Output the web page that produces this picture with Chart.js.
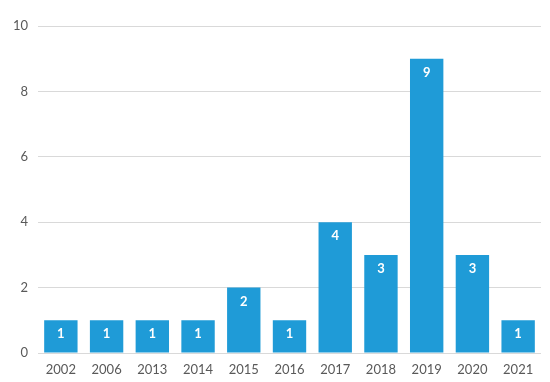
<!DOCTYPE html>
<html>
<head>
<meta charset="utf-8">
<script src="https://cdn.jsdelivr.net/npm/chart.js@4"></script>
<style>
  html, body { margin: 0; padding: 0; background: #fff; }
  #wrap { width: 550px; height: 382px; }
</style>
</head>
<body>
<div id="wrap"><canvas id="chart-area"></canvas></div>
<script>
var years = ['2002', '2006', '2013', '2014', '2015', '2016', '2017', '2018', '2019', '2020', '2021'];
var counts = [1, 1, 1, 1, 2, 1, 4, 3, 9, 3, 1];
var yTicks = [0, 2, 4, 6, 8, 10];

// white value labels just below the top of each bar
var barLabels = {
    id: 'barLabels',
    afterDatasetsDraw: function(chart) {
        var ctx = chart.ctx;
        var meta = chart.getDatasetMeta(0);
        ctx.save();
        ctx.fillStyle = '#ffffff';
        ctx.font = 'bold 13px Lato';
        ctx.textAlign = 'center';
        ctx.textBaseline = 'middle';
        meta.data.forEach(function(bar, i) {
            ctx.fillText(chart.data.datasets[0].data[i], bar.x, bar.y + 14);
        });
        ctx.restore();
    }
};

var config = {
    type: 'bar',
    data: {
        labels: years,
        datasets: [{
            data: counts,
            backgroundColor: '#1f9bd7',
            categoryPercentage: 1,
            barPercentage: 0.73
        }]
    },
    options: {
        responsive: true,
        maintainAspectRatio: false,
        animation: false,
        layout: { padding: { top: 26, right: 9, bottom: 0, left: 0 } },
        plugins: {
            legend: { display: false },
            tooltip: { enabled: false }
        },
        scales: {
            x: {
                afterFit: function(scale) { scale.height = 29; },
                grid: { display: false, drawTicks: false },
                border: { display: false },
                ticks: { color: '#595959', font: { family: 'Lato', size: 13 }, padding: 9 }
            },
            y: {
                min: 0,
                max: 10,
                afterBuildTicks: function(scale) {
                    scale.ticks = yTicks.map(function(v) { return { value: v }; });
                },
                afterFit: function(scale) { scale.width = 38; },
                grid: { color: '#d9d9d9', drawTicks: false },
                border: { display: false },
                ticks: { color: '#595959', font: { family: 'Lato', size: 13 }, padding: 10 }
            }
        }
    },
    plugins: [barLabels]
};

var ctx = document.getElementById('chart-area').getContext('2d');
window.countChart = new Chart(ctx, config);
</script>
</body>
</html>
